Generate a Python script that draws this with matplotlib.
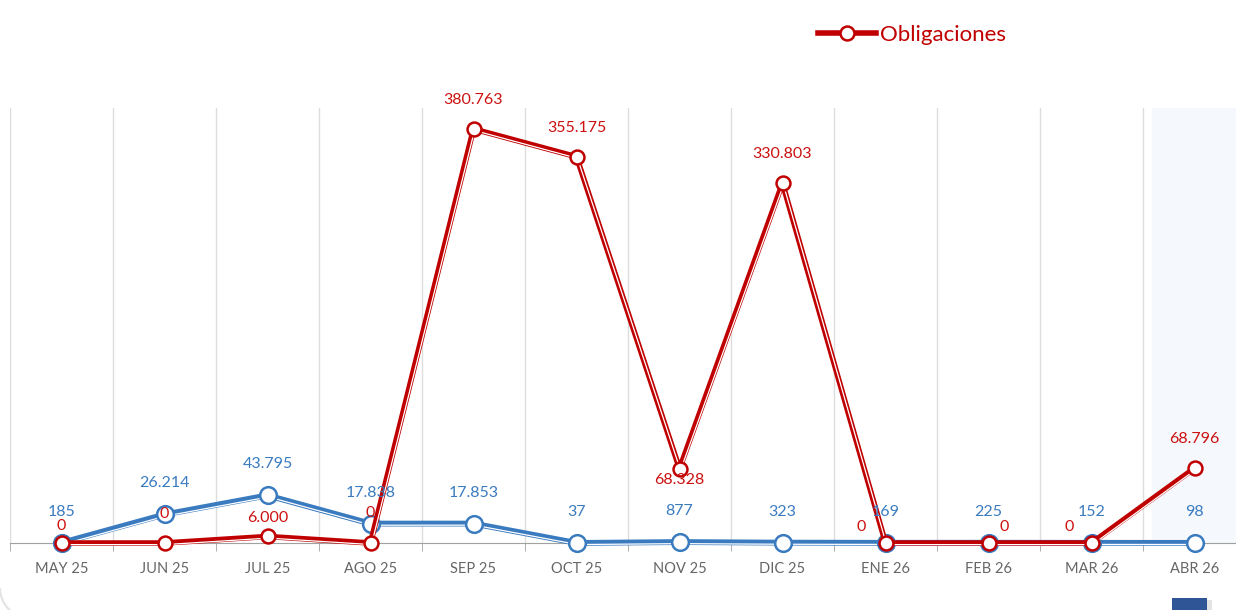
import matplotlib
matplotlib.use("Agg")
import matplotlib.pyplot as plt
import matplotlib.transforms as mtransforms
from matplotlib.lines import Line2D
from matplotlib.patches import Rectangle, Arc
import numpy as np

months = ["MAY 25", "JUN 25", "JUL 25", "AGO 25", "SEP 25", "OCT 25",
          "NOV 25", "DIC 25", "ENE 26", "FEB 26", "MAR 26", "ABR 26"]
blue_vals = [185, 26214, 43795, 17838, 17853, 37, 877, 323, 169, 225, 152, 98]
obligaciones = [0, 0, 6000, 0, 380763, 355175, 68328, 330803, 0, 0, 0, 68796]

# label offsets in pixels (dx, dy), tuned so labels don't pile up
blue_off = [(0, 31)] * 12
red_off = [(0, 17), (0, 29), (0, 18), (0, 30), (0, 29), (0, 29),
           (0, -11), (0, 29), (-24, 16), (16, 16), (-22, 16), (0, 29)]

BLUE = "#3a7bbf"
RED = "#c00000"
W, H = 1236, 610

plt.rcParams["font.family"] = ["Lato", "DejaVu Sans"]


def fmt(v):
    return f"{v:,.0f}".replace(",", ".")


fig = plt.figure(figsize=(W / 100, H / 100), dpi=100)
ax = fig.add_axes([10 / W, 67 / H, 1236 / W, 435 / H])
x = np.arange(len(months))

ax.set_xlim(-0.5, len(months) - 0.5)
ax.set_ylim(0, 400000)
ax.axvspan(10.59, 11.5, color="#f5f9fd", zorder=0)

shift = mtransforms.offset_copy(ax.transData, fig=fig, x=1.0, y=-1.6, units="dots")


def series(vals, color, lw, ms, z):
    ax.plot(x, vals, color=color, lw=lw, solid_joinstyle="round", zorder=z, clip_on=False)
    ax.plot(x, vals, color="white", lw=0.9, transform=shift, zorder=z + 0.1, clip_on=False)
    ax.plot(x, vals, ls="none", marker="o", ms=ms, mfc="white", mec=color, mew=1.8,
            zorder=z + 0.2, clip_on=False)


series(blue_vals, BLUE, 4.2, 12, 3)
series(obligaciones, RED, 4.0, 10, 5)

for xi, v, (dx, dy) in zip(x, blue_vals, blue_off):
    ax.annotate(fmt(v), (xi, v), xytext=(dx, dy), textcoords="offset pixels",
                ha="center", va="center", fontsize=11.5, color=BLUE, zorder=8)
for xi, v, (dx, dy) in zip(x, obligaciones, red_off):
    ax.annotate(fmt(v), (xi, v), xytext=(dx, dy), textcoords="offset pixels",
                ha="center", va="center", fontsize=11.5, color="#cc1111", zorder=9)

for s in ("top", "right", "left"):
    ax.spines[s].set_visible(False)
ax.spines["bottom"].set_color("#a0a0a0")
ax.set_yticks([])
ax.set_xticks(x)
ax.set_xticklabels(months, fontsize=10.5, color="#666666")
ax.tick_params(axis="x", which="major", length=0, pad=14)
ax.set_xticks(np.arange(-0.5, len(months)), minor=True)
ax.tick_params(axis="x", which="minor", length=6, color="#a0a0a0")
ax.grid(True, axis="x", which="minor", color="#dddddd", lw=1)

handle = Line2D([], [], color=RED, lw=4, marker="o", ms=10, mfc="white", mec=RED, mew=1.8)
fig.legend(handles=[handle], labels=["Obligaciones"], loc="center",
           bbox_to_anchor=(912 / W, 1 - 35 / H), frameon=False, fontsize=16,
           labelcolor=RED, handlelength=2.6, handletextpad=0.2)

# rounded corner of the card and the corner button
px = mtransforms.IdentityTransform()
fig.add_artist(Arc((30, 22), 60, 60, theta1=180, theta2=270, transform=px,
                   color="#e3e3e3", lw=1.5))
fig.add_artist(Rectangle((1176 / W, 0), 36 / W, 10 / H, transform=fig.transFigure,
                         fc="#cfcfcf", ec="none", alpha=0.6))
fig.add_artist(Rectangle((1172 / W, 0), 35 / W, 12 / H, transform=fig.transFigure,
                         fc="#2f5597", ec="none"))

fig.savefig("out.png", dpi=100)
